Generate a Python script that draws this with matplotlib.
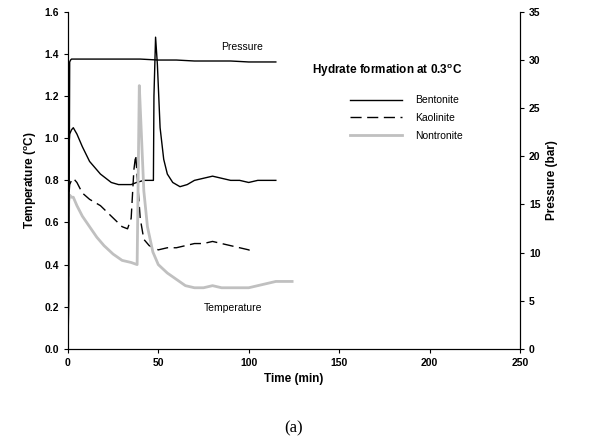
import matplotlib
matplotlib.use("Agg")
import matplotlib.pyplot as plt

plt.rcParams['font.family'] = ['Liberation Sans', 'DejaVu Sans']

bent_t = [0, 0.5, 1, 2, 3, 5, 8, 12, 18, 24, 28, 32, 35, 38, 42, 46, 47.3, 47.6, 48.5, 49.5, 51, 53, 55, 58, 62, 66, 70, 75, 80, 85, 90, 95, 100, 105, 110, 115]
bent_y = [0.25, 0.95, 1.02, 1.04, 1.05, 1.02, 0.96, 0.89, 0.83, 0.79, 0.78, 0.78, 0.78, 0.79, 0.80, 0.80, 0.80, 1.20, 1.48, 1.35, 1.05, 0.90, 0.83, 0.79, 0.77, 0.78, 0.80, 0.81, 0.82, 0.81, 0.80, 0.80, 0.79, 0.80, 0.80, 0.80]
kaol_t = [0, 0.5, 1, 2, 3, 5, 8, 12, 18, 24, 30, 33, 35, 36.5, 37.5, 38.5, 40, 42, 45, 50, 55, 60, 65, 70, 75, 80, 85, 90, 95, 100, 102]
kaol_y = [0.35, 0.72, 0.78, 0.80, 0.81, 0.79, 0.74, 0.71, 0.68, 0.63, 0.58, 0.57, 0.62, 0.85, 0.92, 0.80, 0.62, 0.52, 0.49, 0.47, 0.48, 0.48, 0.49, 0.50, 0.50, 0.51, 0.50, 0.49, 0.48, 0.47, 0.46]
nont_t = [0, 0.5, 1, 2, 3, 5, 8, 12, 16, 20, 25, 30, 35, 38.3, 39.5, 40.5, 42, 44, 47, 50, 55, 60, 65, 70, 75, 80, 85, 90, 95, 100, 105, 110, 115, 120, 124]
nont_y = [0.35, 0.70, 0.73, 0.72, 0.72, 0.68, 0.63, 0.58, 0.53, 0.49, 0.45, 0.42, 0.41, 0.40, 1.25, 1.05, 0.75, 0.58, 0.46, 0.40, 0.36, 0.33, 0.30, 0.29, 0.29, 0.30, 0.29, 0.29, 0.29, 0.29, 0.30, 0.31, 0.32, 0.32, 0.32]
pres_t = [0, 0.5, 1, 1.5, 2, 10, 20, 30, 40, 50, 60, 70, 80, 90, 100, 110, 115]
pres_y = [0, 5, 29.8, 30.0, 30.1, 30.1, 30.1, 30.1, 30.1, 30.0, 30.0, 29.9, 29.9, 29.9, 29.8, 29.8, 29.8]

fig = plt.figure(figsize=(6.06, 4.41), dpi=100)
ax = fig.add_axes([0.112, 0.209, 0.746, 0.764])
ax.plot(bent_t, bent_y, color='black', lw=1, label='Bentonite')
ax.plot(kaol_t, kaol_y, color='black', lw=1, ls=(0, (8, 4)), label='Kaolinite')
ax.plot(nont_t, nont_y, color='#c0c0c0', lw=2, label='Nontronite')
ax.set_xlim(0, 250)
ax.set_ylim(0, 1.6)
ax.set_xticks([0, 50, 100, 150, 200, 250])
ax.set_yticks([0, 0.2, 0.4, 0.6, 0.8, 1.0, 1.2, 1.4, 1.6])
ax.set_yticklabels([f'{v:.1f}' for v in ax.get_yticks()])
ax.tick_params(labelsize=7.5, direction='out', length=3)
for lbl in ax.get_xticklabels() + ax.get_yticklabels():
    lbl.set_fontweight('bold')
ax.set_xlabel('Time (min)', fontsize=8.5, fontweight='bold')
ax.set_ylabel('Temperature ($\\mathregular{^oC}$)', fontsize=8.5, fontweight='bold')
ax.spines['top'].set_visible(False)

ax2 = ax.twinx()
ax2.plot(pres_t, pres_y, color='black', lw=1)
ax2.set_ylim(0, 35)
ax2.set_yticks(range(0, 36, 5))
ax2.tick_params(labelsize=7.5, direction='out', length=3)
for lbl in ax2.get_yticklabels():
    lbl.set_fontweight('bold')
ax2.set_ylabel('Pressure (bar)', fontsize=8.5, fontweight='bold')
ax2.spines['top'].set_visible(False)

leg = ax.legend(loc='upper left', bbox_to_anchor=(0.52, 0.88), frameon=False, fontsize=7.5,
                handlelength=5, labelspacing=0.75, handletextpad=1.2,
                title='Hydrate formation at 0.3$\\mathregular{^oC}$')
leg.get_title().set_fontweight('bold')
leg.get_title().set_fontsize(8.5)
leg._legend_box.align = 'right'
leg._legend_box.sep = 12
ax.text(85, 1.42, 'Pressure', fontsize=7.5)
ax.text(75, 0.18, 'Temperature', fontsize=7.5)
fig.text(0.485, 0.02, '(a)', fontsize=12, family='Liberation Serif', ha='center')
fig.savefig('out.png', dpi=100)
